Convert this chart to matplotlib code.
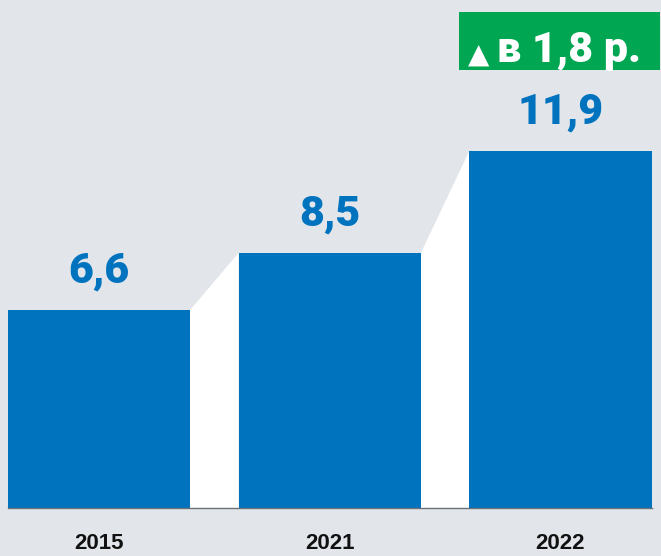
import matplotlib
matplotlib.use("Agg")
import matplotlib.pyplot as plt
from matplotlib.patches import Polygon, Rectangle

years = ["2015", "2021", "2022"]
values = [6.6, 8.5, 11.9]
value_labels = ["6,6", "8,5", "11,9"]
growth_label = "в 1,8 р."

BG = "#e2e6ea"
BLUE = "#0073bf"
GREEN = "#00a651"
LABEL_FONT = ["Roboto", "DejaVu Sans"]

W, H = 661, 556
fig = plt.figure(figsize=(W / 100, H / 100), dpi=100, facecolor=BG)
ax = fig.add_axes([0, 0, 1, 1])
ax.set_facecolor(BG)
ax.axis("off")

bar_w = 0.79
x = list(range(len(values)))
ax.set_xlim(-0.429, 2.4356)
ax.set_ylim(-1.6, 16.93)

# white wedges linking the top of each bar to the next one
for i in range(len(values) - 1):
    x0 = x[i] + bar_w / 2
    x1 = x[i + 1] - bar_w / 2
    poly = Polygon([(x0, 0), (x0, values[i]), (x1, values[i + 1]), (x1, 0)],
                   closed=True, facecolor="white", edgecolor="none", zorder=1)
    ax.add_patch(poly)

ax.bar(x, values, width=bar_w, color=BLUE, zorder=2)
ax.plot([x[0] - bar_w / 2, x[-1] + bar_w / 2], [0, 0], color="#6b7178", lw=1, zorder=3)

for xi, v, lab in zip(x, values, value_labels):
    ax.text(xi, v + 0.9, lab, ha="center", va="baseline", fontsize=31,
            fontweight=900, color=BLUE, family=LABEL_FONT)

for xi, y in zip(x, years):
    ax.text(xi, -1.38, y, ha="center", va="baseline", fontsize=16,
            fontweight="bold", color="#111111", family="Liberation Sans")

# growth badge
fig.patches.append(Rectangle((459 / W, 1 - 70 / H), (660 - 459) / W, 58 / H,
                             transform=fig.transFigure, facecolor=GREEN,
                             edgecolor="none", zorder=5))
fig.text(479 / W, 1 - 55 / H, "▲", ha="center", va="center", fontsize=20,
         color="white", family=["DejaVu Sans"], zorder=6)
fig.text(497 / W, 1 - 62 / H, growth_label, ha="left", va="baseline", fontsize=31,
         fontweight=900, color="white", family=LABEL_FONT, zorder=6)

fig.savefig("out.png", dpi=100, facecolor=BG)
